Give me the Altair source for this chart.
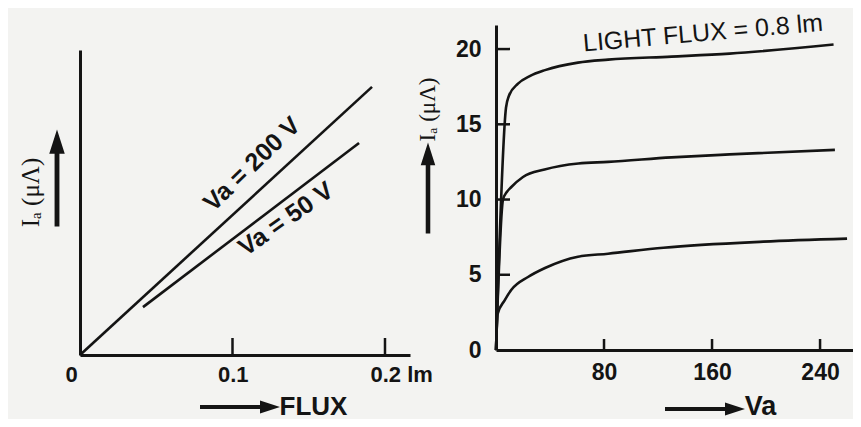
import altair as alt
import pandas as pd

INK = "#141414"
SANS = "Liberation Sans Narrow, Arial Narrow, Liberation Sans, sans-serif"
SERIF = "Liberation Serif, DejaVu Serif, serif"

# ---------------- Left panel: Ia vs FLUX ----------------
flux_200 = [0.0, 0.1915]
ia_200 = [0.0, 0.879]
flux_50 = [0.0413, 0.183]
ia_50 = [0.157, 0.695]
left_labels = ["Va = 200 V", "Va = 50 V"]
left_label_flux = [0.1128, 0.135]
left_label_ia = [0.626, 0.446]
left_label_angle = [316, 325]
flux_ticks = [0.0, 0.1, 0.2]
flux_inner_ticks = [0.1, 0.2]

# ---------------- Right panel: Ia vs Va ----------------
va_top = [0, 7.4, 9.6, 16.3, 25, 36.3, 60.7, 83, 130, 173, 250]
ia_top = [0, 16.1, 16.9, 17.7, 18.2, 18.6, 19.1, 19.3, 19.5, 19.7, 20.3]
va_mid = [0, 5.2, 8, 11, 20, 36, 61, 83, 130, 173, 251]
ia_mid = [0, 10.0, 10.5, 10.8, 11.5, 12.0, 12.4, 12.5, 12.8, 13.0, 13.3]
va_low = [0, 1.2, 6.4, 11.4, 23.7, 36.3, 60.7, 83, 124, 198, 260]
ia_low = [0, 2.4, 3.3, 4.0, 4.85, 5.45, 6.2, 6.4, 6.8, 7.2, 7.4]
va_ticks = [80, 160, 240]
ia_ticks = [0, 5, 10, 15, 20]
right_label = "LIGHT FLUX = 0.8 lm"
right_label_va = 153.3
right_label_ia = 21.06

W, H = 845, 411

# scales (pixel ranges place the two panels side by side in one plot area)
XL = dict(domain=[0, 0.2164], range=[72, 402], nice=False, zero=False)
YL = dict(domain=[0, 1], range=[347, 42], nice=False, zero=False)
XR = dict(domain=[0, 264.4], range=[488, 845], nice=False, zero=False)
YR = dict(domain=[0, 21.6], range=[342, 17], nice=False, zero=False)

# ---- left tables
left_df = pd.concat([
    pd.DataFrame({"flux": flux_200, "ia": ia_200, "series": left_labels[0]}),
    pd.DataFrame({"flux": flux_50, "ia": ia_50, "series": left_labels[1]}),
])
left_lab_df = pd.DataFrame({"flux": left_label_flux, "ia": left_label_ia,
                            "text": left_labels, "angle": left_label_angle})
left_tick_df = pd.DataFrame({"t": flux_inner_ticks})

left_lines = alt.Chart(left_df).mark_line(color=INK, strokeWidth=2.6).encode(
    x=alt.X("flux:Q", scale=alt.Scale(**XL), axis=alt.Axis(
        orient="bottom", offset=-64, values=flux_ticks, ticks=False, tickSize=0,
        format=".1~f",
        labelExpr="datum.value > 0.15 ? datum.label + ' lm' : datum.label",
        labelAlign="left", labelOffset=-15,
        labelFont=SANS, labelFontSize=22, labelFontWeight="bold", labelPadding=9,
        labelFlush=False, labelOverlap=False,
        title="FLUX", titleX=305, titleY=59, titleBaseline="alphabetic",
        titleFont=SANS, titleFontSize=26, titleFontWeight="bold")),
    y=alt.Y("ia:Q", scale=alt.Scale(**YL), axis=alt.Axis(
        orient="left", offset=-72, labels=False, ticks=False, tickSize=0,
        title="Iₐ (μΛ)", titleX=-50, titleY=184, titleAngle=270,
        titleAlign="center", titleBaseline="middle",
        titleFont=SERIF, titleFontSize=25, titleFontWeight="normal")),
    detail="series:N",
)
left_text = alt.Chart(left_lab_df).mark_text(
    font=SANS, fontSize=25, fontWeight="bold", color=INK).encode(
    x=alt.X("flux:Q", scale=alt.Scale(**XL), axis=None),
    y=alt.Y("ia:Q", scale=alt.Scale(**YL), axis=None),
    text="text:N",
    angle=alt.Angle("angle:Q", scale=None),
)
left_ticks = alt.Chart(left_tick_df).mark_rule(color=INK, strokeWidth=2.5).encode(
    x=alt.X("t:Q", scale=alt.Scale(**XL), axis=None),
    y=alt.value(347), y2=alt.value(330))

# ---- right tables
right_df = pd.concat([
    pd.DataFrame({"va": va_top, "ia": ia_top, "series": "0.8 lm"}),
    pd.DataFrame({"va": va_mid, "ia": ia_mid, "series": "mid"}),
    pd.DataFrame({"va": va_low, "ia": ia_low, "series": "low"}),
])
right_lab_df = pd.DataFrame({"va": [right_label_va], "ia": [right_label_ia], "text": [right_label]})
right_xtick_df = pd.DataFrame({"t": va_ticks})
right_ytick_df = pd.DataFrame({"t": ia_ticks[1:]})

right_lines = alt.Chart(right_df).mark_line(
    color=INK, strokeWidth=2.6, interpolate="monotone").encode(
    x=alt.X("va:Q", scale=alt.Scale(**XR), axis=alt.Axis(
        orient="bottom", offset=-69, values=va_ticks, ticks=False, tickSize=0,
        labelFont=SANS, labelFontSize=23, labelFontWeight="bold", labelPadding=11,
        labelFlush=False,
        title="Va", titleX=752, titleY=64, titleBaseline="alphabetic",
        titleFont=SANS, titleFontSize=27, titleFontWeight="bold")),
    y=alt.Y("ia:Q", scale=alt.Scale(**YR), axis=alt.Axis(
        orient="left", offset=-488, values=ia_ticks, ticks=False, tickSize=0,
        labelFont=SANS, labelFontSize=23, labelFontWeight="bold", labelPadding=15,
        labelFlush=False,
        title="Iₐ (μΛ)", titleX=-69, titleY=101, titleAngle=270,
        titleAlign="center", titleBaseline="middle",
        titleFont=SERIF, titleFontSize=23, titleFontWeight="normal")),
    detail="series:N",
)
right_text = alt.Chart(right_lab_df).mark_text(
    font=SANS, fontSize=25, color=INK, angle=355).encode(
    x=alt.X("va:Q", scale=alt.Scale(**XR), axis=None),
    y=alt.Y("ia:Q", scale=alt.Scale(**YR), axis=None),
    text="text:N")
right_xticks = alt.Chart(right_xtick_df).mark_rule(color=INK, strokeWidth=2.5).encode(
    x=alt.X("t:Q", scale=alt.Scale(**XR), axis=None),
    y=alt.value(342), y2=alt.value(331))
right_yticks = alt.Chart(right_ytick_df).mark_rule(color=INK, strokeWidth=2.5).encode(
    y=alt.Y("t:Q", scale=alt.Scale(**YR), axis=None),
    x=alt.value(488), x2=alt.value(502))

# ---- decorative arrows beside the axis titles
ARROW = "M-1,-0.05L0.5,-0.05L0.5,-0.16L1,0L0.5,0.16L0.5,0.05L-1,0.05Z"
one = pd.DataFrame({"k": [0]})


def arrow(cx, cy, length, ang):
    return alt.Chart(one).mark_point(
        shape=ARROW, filled=True, color=INK, opacity=1, strokeWidth=0).encode(
        x=alt.value(cx), y=alt.value(cy), size=alt.value(length * length),
        angle=alt.value(ang))


chart = alt.layer(
    left_lines, left_text, left_ticks,
    right_lines, right_text, right_xticks, right_yticks,
    arrow(232, 399, 80, 0),
    arrow(697, 401, 80, 0),
    arrow(49, 170, 97, 270),
    arrow(420, 180, 91, 270),
).resolve_scale(
    x="independent", y="independent"
).properties(
    width=W, height=H, padding=0, background="#f3f3f1",
    autosize=alt.AutoSizeParams(type="none"),
).configure_axis(
    domainColor=INK, domainWidth=3, grid=False, labelColor=INK, titleColor=INK,
).configure_view(stroke=None)

chart.save("out.html", embed_options={"renderer": "svg", "actions": False})
